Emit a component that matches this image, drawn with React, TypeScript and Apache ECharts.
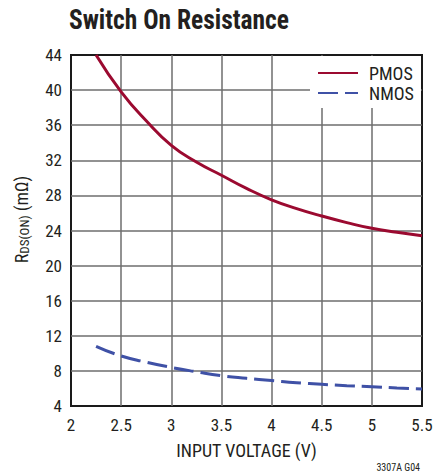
import React, { useEffect, useRef } from "react";
import * as echarts from "echarts";

const voltage = [2.25, 2.5, 2.75, 3, 3.25, 3.5, 3.75, 4, 4.25, 4.5, 4.75, 5, 5.25, 5.5];
const pmos = [44, 39.8, 36.5, 33.7, 31.8, 30.3, 28.8, 27.5, 26.5, 25.65, 24.9, 24.25, 23.8, 23.4];
const nmos = [10.8, 9.7, 9.0, 8.4, 7.9, 7.45, 7.15, 6.9, 6.65, 6.47, 6.32, 6.2, 6.05, 5.94];
const xTicks = { min: 2, max: 5.5, interval: 0.5 };
const yTicks = { min: 4, max: 44, interval: 4 };

const FONT = "'Liberation Sans Narrow', 'Arial Narrow', 'Roboto Condensed', Roboto, sans-serif";

export default function App() {
  const ref = useRef<HTMLDivElement>(null);
  useEffect(() => {
    if (!ref.current) return;
    const chart = echarts.init(ref.current, undefined, { renderer: "svg" });
    chart.setOption({
      animation: false,
      backgroundColor: "#fff",
      textStyle: { fontFamily: FONT },
      grid: {
        left: 71,
        top: 55,
        width: 351,
        height: 351,
        show: true,
        borderColor: "#1a1a1a",
        borderWidth: 2,
        backgroundColor: "transparent",
      },
      xAxis: {
        type: "value",
        min: xTicks.min,
        max: xTicks.max,
        interval: xTicks.interval,
        name: "INPUT VOLTAGE (V)",
        nameLocation: "middle",
        nameGap: 35,
        nameTextStyle: { fontFamily: FONT, fontSize: 18, color: "#231f20" },
        axisLine: { show: false },
        axisTick: { show: false },
        axisLabel: { fontFamily: FONT, fontSize: 17, color: "#231f20", margin: 10 },
        splitLine: { show: true, showMinLine: false, showMaxLine: false, lineStyle: { color: "#6e6e6e", width: 1.5 } },
      },
      yAxis: {
        type: "value",
        min: yTicks.min,
        max: yTicks.max,
        interval: yTicks.interval,
        name: "R{sub|DS(ON)} (mΩ)",
        nameLocation: "middle",
        nameRotate: 90,
        nameGap: 40,
        nameTextStyle: {
          fontFamily: FONT,
          fontSize: 18,
          color: "#231f20",
          padding: [0, 0, 0, 22],
          rich: {
            sub: { fontFamily: FONT, fontSize: 13, color: "#231f20", verticalAlign: "bottom", padding: [7, 0, 0, 0] },
          },
        },
        axisLine: { show: false },
        axisTick: { show: false },
        axisLabel: { fontFamily: FONT, fontSize: 17, color: "#231f20", margin: 9 },
        splitLine: { show: true, showMinLine: false, showMaxLine: false, lineStyle: { color: "#6e6e6e", width: 1.5 } },
      },
      legend: {
        orient: "vertical",
        left: 312,
        top: 59,
        itemWidth: 40,
        itemHeight: 12,
        itemGap: 2,
        z: 20,
        itemStyle: { opacity: 0 },
        textStyle: { fontFamily: FONT, fontSize: 18, color: "#231f20", padding: [0, 0, 0, 6] },
        data: ["PMOS", "NMOS"],
      },
      graphic: [
        {
          type: "rect",
          z: 10,
          shape: { x: 310, y: 56, width: 111, height: 52 },
          style: { fill: "#fff" },
        },
        {
          type: "text",
          x: 69,
          y: 6,
          scaleX: 0.91,
          style: {
            text: "Switch On Resistance",
            fontFamily: FONT,
            fontWeight: "bold",
            fontSize: 28,
            fill: "#231f20",
          },
        },
        {
          type: "text",
          right: 18,
          top: 462,
          style: { text: "3307A G04", fontFamily: FONT, fontSize: 10, fill: "#231f20" },
        },
      ],
      series: [
        {
          name: "PMOS",
          type: "line",
          smooth: true,
          symbol: "none",
          data: voltage.map((v, i) => [v, pmos[i]]),
          lineStyle: { color: "#9b0a30", width: 3 },
          itemStyle: { color: "#9b0a30" },
          z: 5,
        },
        {
          name: "NMOS",
          type: "line",
          smooth: true,
          symbol: "none",
          data: voltage.map((v, i) => [v, nmos[i]]),
          lineStyle: { color: "#3f51a6", width: 3, type: [20, 7] },
          itemStyle: { color: "#3f51a6" },
          z: 5,
        },
      ],
    });
    return () => chart.dispose();
  }, []);
  return <div ref={ref} style={{ position: "absolute", left: 0, top: 0, width: 438, height: 475 }} />;
}
